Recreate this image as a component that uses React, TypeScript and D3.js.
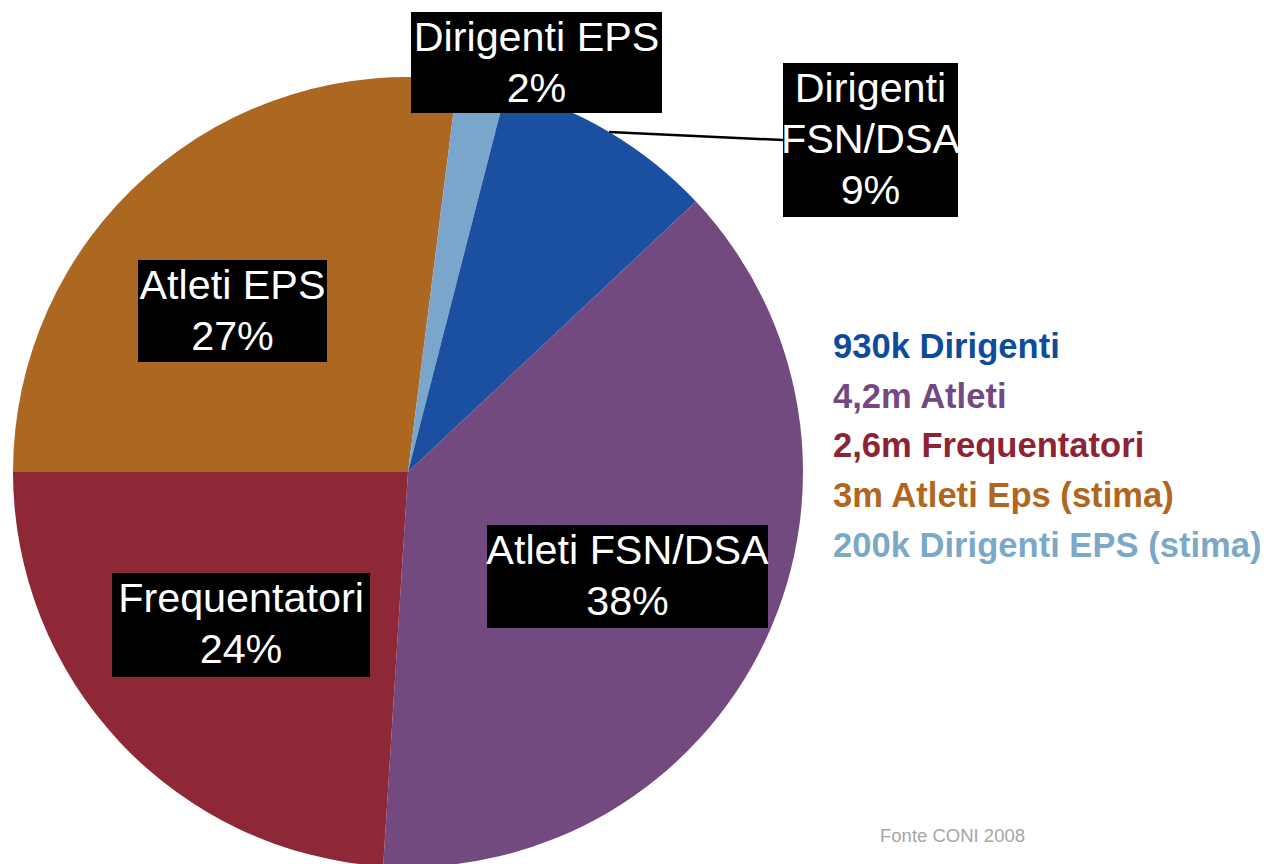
import React from "react";
import * as d3 from "d3";

const categories = ["Atleti EPS", "Dirigenti EPS", "Dirigenti FSN/DSA", "Atleti FSN/DSA", "Frequentatori"];
const labelNames = [["Atleti EPS"], ["Dirigenti EPS"], ["Dirigenti", "FSN/DSA"], ["Atleti FSN/DSA"], ["Frequentatori"]];
const shares = [27, 2, 9, 38, 24];
const sliceColors = ["#AC6821", "#7AA6CC", "#1B50A0", "#734A80", "#8E2736"];

const legendTexts = [
  "930k Dirigenti",
  "4,2m Atleti",
  "2,6m Frequentatori",
  "3m Atleti Eps (stima)",
  "200k Dirigenti EPS (stima)",
];
const legendColors = ["#0E4C9B", "#744983", "#8D2333", "#B0661F", "#7CA8C8"];
const sourceNote = "Fonte CONI 2008";

// label box layout (style/positions), indexed like categories
const labelBoxes = [
  { x: 138, y: 260, w: 189, h: 102 },
  { x: 411, y: 12, w: 251, h: 101 },
  { x: 783, y: 63, w: 175, h: 154 },
  { x: 487, y: 525, w: 281, h: 103 },
  { x: 112, y: 573, w: 258, h: 104 },
];

const W = 1269;
const H = 864;
const cx = 408;
const cy = 472;
const R = 395;
const FONT = "'Liberation Sans', Arial, Helvetica, sans-serif";

export default function App() {
  const pie = d3
    .pie<number>()
    .sort(null)
    .value((d) => d)
    .startAngle(-Math.PI / 2)
    .endAngle((3 * Math.PI) / 2);
  const arcs = pie(shares);
  const arcGen = d3.arc<d3.PieArcDatum<number>>().innerRadius(0).outerRadius(R);

  // leader line for the dark-blue slice
  const lead = arcs[2];
  const mid = (lead.startAngle + lead.endAngle) / 2;
  const lx1 = cx + R * Math.sin(mid);
  const ly1 = cy - R * Math.cos(mid);
  const lb = labelBoxes[2];

  return (
    <svg
      width={W}
      height={H}
      style={{ position: "absolute", left: 0, top: 0, background: "#fff" }}
    >
      <g transform={`translate(${cx},${cy})`}>
        {arcs.map((a, i) => (
          <path key={i} d={arcGen(a) || ""} fill={sliceColors[i]} />
        ))}
      </g>
      <line x1={lx1} y1={ly1} x2={lb.x} y2={lb.y + 77} stroke="#000" strokeWidth={2.5} />
      {labelBoxes.map((b, i) => {
        const lines = [...labelNames[i], `${shares[i]}%`];
        return (
          <g key={i}>
            <rect x={b.x} y={b.y} width={b.w} height={b.h} fill="#000" />
            {lines.map((t, j) => (
              <text
                key={j}
                x={b.x + b.w / 2}
                y={b.y + 39 + j * 51}
                textAnchor="middle"
                fill="#fff"
                fontFamily={FONT}
                fontSize={41.3}
              >
                {t}
              </text>
            ))}
          </g>
        );
      })}
      {legendTexts.map((t, i) => (
        <text
          key={i}
          x={833}
          y={358 + i * 49.7}
          fill={legendColors[i]}
          fontFamily={FONT}
          fontWeight="bold"
          fontSize={34.6}
        >
          {t}
        </text>
      ))}
      <text x={880} y={842} fill="#A6A6A6" fontFamily={FONT} fontSize={18.5}>
        {sourceNote}
      </text>
    </svg>
  );
}
